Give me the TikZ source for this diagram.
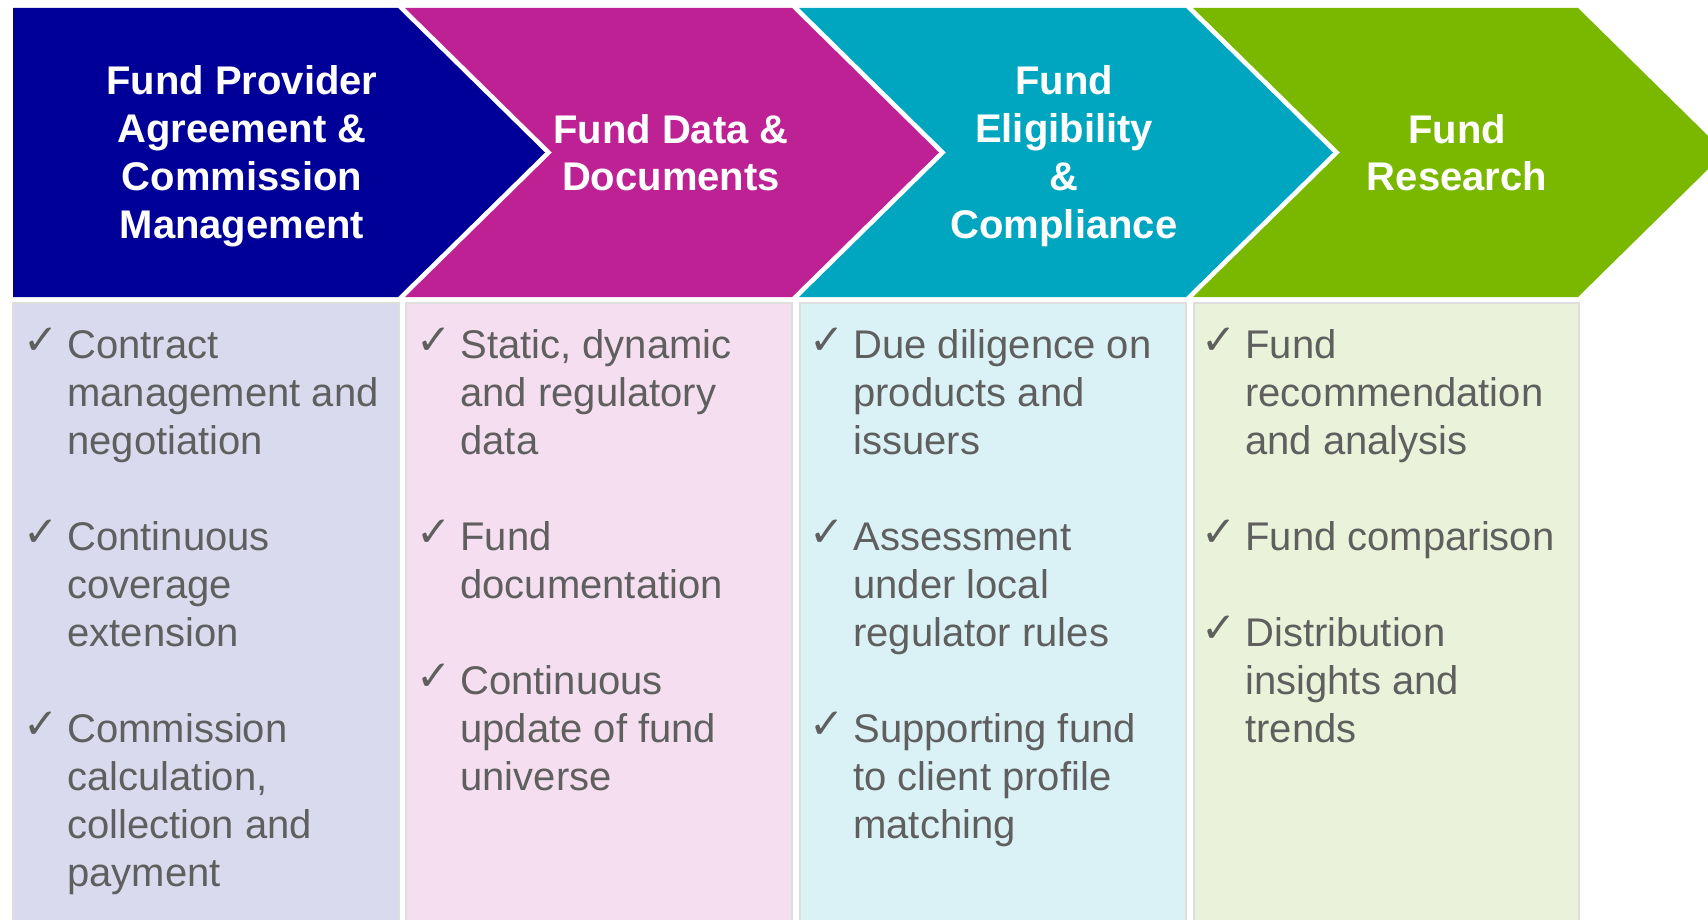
\documentclass[tikz,border=0pt]{standalone}
\usepackage{fontspec}
\setmainfont{Liberation Sans}
\newfontfamily\symfont{DejaVu Sans}
\definecolor{cblue}{RGB}{0,0,153}
\definecolor{cmag}{RGB}{190,33,148}
\definecolor{cteal}{RGB}{0,166,192}
\definecolor{cgreen}{RGB}{122,184,0}
\definecolor{bblue}{RGB}{218,218,238}
\definecolor{bmag}{RGB}{244,222,239}
\definecolor{bteal}{RGB}{218,241,246}
\definecolor{bgreen}{RGB}{234,243,218}
\definecolor{txtgray}{RGB}{95,95,95}
\definecolor{edgegray}{RGB}{222,222,222}
\newcommand{\chkmark}{\llap{\raisebox{2pt}{\symfont\fontsize{21}{21}\selectfont ✓}\hspace{4.5pt}}}
\begin{document}
\begin{tikzpicture}[x=0.5pt,y=-0.5pt,
  hdr/.style={anchor=base, inner sep=0pt, text=white, font=\fontsize{20}{24}\selectfont\bfseries},
  bodytxt/.style={anchor=base west, inner sep=0pt, text=txtgray, font=\fontsize{20}{24}\selectfont},
  boxstyle/.style={draw=edgegray, line width=0.75pt}]
\useasboundingbox (0,0) rectangle (1708,920);
\clip (0,0) rectangle (1708,920);
% chevrons
\fill[cblue] (13,8) -- (398,8) -- (545,152.5) -- (398,297) -- (13,297) -- cycle;
\fill[cmag] (405,8) -- (792,8) -- (939,152.5) -- (792,297) -- (405,297) -- (552,152.5) -- cycle;
\fill[cteal] (799,8) -- (1186,8) -- (1333,152.5) -- (1186,297) -- (799,297) -- (946,152.5) -- cycle;
\fill[cgreen] (1193,8) -- (1578,8) -- (1725,152.5) -- (1578,297) -- (1193,297) -- (1340,152.5) -- cycle;
% boxes
\filldraw[boxstyle, fill=bblue] (13,303) rectangle (399,930);
\filldraw[boxstyle, fill=bmag] (406,303) rectangle (792,930);
\filldraw[boxstyle, fill=bteal] (800,303) rectangle (1186,930);
\filldraw[boxstyle, fill=bgreen] (1194,303) rectangle (1579,930);
% headers
\node[hdr] (h1) at (242,95) {\begin{tabular}[t]{@{}c@{}}Fund Provider\\Agreement \&\\Commission\\Management\end{tabular}};
\node[hdr] (h2) at (671,143) {\begin{tabular}[t]{@{}c@{}}Fund Data \&\\Documents\end{tabular}};
\node[hdr] (h3) at (1064,95) {\begin{tabular}[t]{@{}c@{}}Fund\\Eligibility\\\&\\Compliance\end{tabular}};
\node[hdr] (h4) at (1457,143) {\begin{tabular}[t]{@{}c@{}}Fund\\Research\end{tabular}};
% body
\node[bodytxt] (b1) at (67,358) {\begin{tabular}[t]{@{}l@{}}\chkmark Contract\\management and\\negotiation\\[24pt]\chkmark Continuous\\coverage\\extension\\[24pt]\chkmark Commission\\calculation,\\collection and\\payment\end{tabular}};
\node[bodytxt] (b2) at (460,358) {\begin{tabular}[t]{@{}l@{}}\chkmark Static, dynamic\\and regulatory\\data\\[24pt]\chkmark Fund\\documentation\\[24pt]\chkmark Continuous\\update of fund\\universe\end{tabular}};
\node[bodytxt] (b3) at (853,358) {\begin{tabular}[t]{@{}l@{}}\chkmark Due diligence on\\products and\\issuers\\[24pt]\chkmark Assessment\\under local\\regulator rules\\[24pt]\chkmark Supporting fund\\to client profile\\matching\end{tabular}};
\node[bodytxt] (b4) at (1245,358) {\begin{tabular}[t]{@{}l@{}}\chkmark Fund\\recommendation\\and analysis\\[24pt]\chkmark Fund comparison\\[24pt]\chkmark Distribution\\insights and\\trends\end{tabular}};
\end{tikzpicture}
\end{document}
